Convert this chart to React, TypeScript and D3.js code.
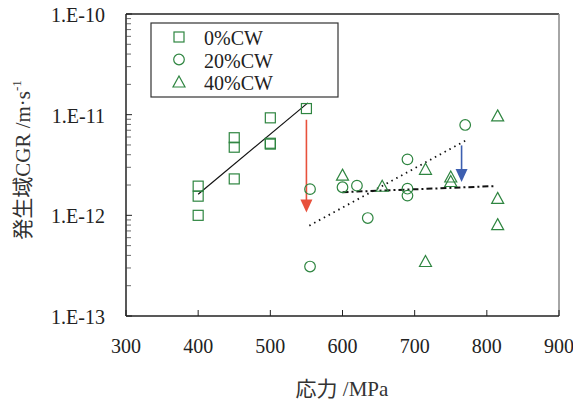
import * as d3 from "d3";

// 0%CW
const cw0Stress = [400, 400, 400, 450, 450, 450, 500, 500, 500, 550];
const cw0Rate = [1.95e-12, 1.55e-12, 1.0e-12, 5.9e-12, 4.75e-12, 2.3e-12, 9.3e-12, 5.2e-12, 5.1e-12, 1.15e-11];
// 20%CW
const cw20Stress = [555, 555, 600, 620, 635, 690, 690, 690, 770];
const cw20Rate = [1.82e-12, 3.1e-13, 1.9e-12, 1.97e-12, 9.4e-13, 3.6e-12, 1.84e-12, 1.57e-12, 7.9e-12];
// 40%CW
const cw40Stress = [600, 655, 715, 715, 750, 750, 815, 815, 815];
const cw40Rate = [2.45e-12, 1.9e-12, 2.8e-12, 3.4e-13, 2.35e-12, 2.12e-12, 9.5e-12, 1.44e-12, 7.9e-13];

// trend lines
const solidLine = [[400, 1.62e-12], [552, 1.31e-11]];
const dottedLine = [[554, 7.9e-13], [770, 5.5e-12]];
const dashDotLine = [[600, 1.7e-12], [810, 1.95e-12]];

// arrows [stress, from, to]
const redArrow = [550, 8.9e-12, 1.07e-12];
const blueArrow = [765, 4.95e-12, 2.14e-12];

const xTicks = [300, 400, 500, 600, 700, 800, 900];
const yTicks = [1e-10, 1e-11, 1e-12, 1e-13];
const yTickLabels = ["1.E-10", "1.E-11", "1.E-12", "1.E-13"];
const legendLabels = ["0%CW", "20%CW", "40%CW"];

const W = 573;
const H = 405;
const margin = { top: 14, right: 14, bottom: 89, left: 126 };
const green = "#2e8540";
const serif = "'Liberation Serif', 'Noto Sans CJK JP', serif";

export default function App() {
  const x = d3.scaleLinear().domain([300, 900]).range([margin.left, W - margin.right]);
  const y = d3.scaleLog().domain([1e-13, 1e-10]).range([H - margin.bottom, margin.top]);

  const minor: number[] = [];
  for (let e = -13; e < -10; e++) {
    for (let k = 2; k <= 9; k++) minor.push(k * Math.pow(10, e));
  }

  const line = d3.line<number[]>().x(d => x(d[0])).y(d => y(d[1]));

  const square = (cx: number, cy: number, key: string) => (
    <rect key={key} x={cx - 5} y={cy - 5} width={10} height={10} fill="none" stroke={green} strokeWidth={1.2} />
  );
  const circle = (cx: number, cy: number, key: string) => (
    <circle key={key} cx={cx} cy={cy} r={5.3} fill="none" stroke={green} strokeWidth={1.2} />
  );
  const triangle = (cx: number, cy: number, key: string) => (
    <path key={key} d={`M${cx},${cy - 7}L${cx + 6},${cy + 4}L${cx - 6},${cy + 4}Z`} fill="none" stroke={green} strokeWidth={1.2} />
  );

  const arrow = (a: number[], color: string, key: string) => {
    const ax = x(a[0]);
    const y0 = y(a[1]);
    const y1 = y(a[2]);
    return (
      <g key={key}>
        <line x1={ax} x2={ax} y1={y0} y2={y1 - 12} stroke={color} strokeWidth={1.6} />
        <path d={`M${ax - 6},${y1 - 13}L${ax + 6},${y1 - 13}L${ax},${y1}Z`} fill={color} />
      </g>
    );
  };

  const x0 = margin.left;
  const x1 = W - margin.right;
  const y0 = H - margin.bottom;
  const y1 = margin.top;

  return (
    <svg width={W} height={H} style={{ position: "absolute", left: 0, top: 0 }}>
      <rect width={W} height={H} fill="white" />
      {/* frame */}
      <line x1={x0} x2={x1} y1={y1} y2={y1} stroke="#222" strokeWidth={1.3} />
      <line x1={x1} x2={x1} y1={y1} y2={y0} stroke="#888" strokeWidth={1.5} />
      <line x1={x0} x2={x1} y1={y0} y2={y0} stroke="#222" strokeWidth={1.5} />
      <line x1={x0} x2={x0} y1={y1} y2={y0} stroke="#222" strokeWidth={1.5} />

      {/* y ticks */}
      {yTicks.map((t, i) => (
        <g key={"yt" + i}>
          <line x1={x0} x2={x0 + 6} y1={y(t)} y2={y(t)} stroke="#222" />
          <text x={105} y={y(t) + 8} textAnchor="end" fontFamily={serif} fontSize={20} fill="#222">
            {yTickLabels[i]}
          </text>
        </g>
      ))}
      {minor.map((t, i) => (
        <line key={"ym" + i} x1={x0} x2={x0 + 5} y1={y(t)} y2={y(t)} stroke="#444" strokeWidth={0.8} />
      ))}

      {/* x ticks */}
      {xTicks.map((t, i) => (
        <g key={"xt" + i}>
          <line x1={x(t)} x2={x(t)} y1={y0} y2={y0 - 6} stroke="#222" />
          <text x={x(t)} y={353} textAnchor="middle" fontFamily={serif} fontSize={20} fill="#222">
            {t}
          </text>
        </g>
      ))}

      {/* axis titles */}
      <text x={342} y={396} textAnchor="middle" fontFamily={serif} fontSize={21} fill="#333">
        応力 /MPa
      </text>
      <text transform={`translate(30,160) rotate(-90)`} textAnchor="middle" fontFamily={serif} fontSize={21} fill="#333">
        発生域CGR /m·s<tspan dy={-9} fontSize={13}>-1</tspan>
      </text>

      {/* trend lines */}
      <path d={line(solidLine) ?? ""} fill="none" stroke="#111" strokeWidth={1.2} />
      <path d={line(dottedLine) ?? ""} fill="none" stroke="#111" strokeWidth={1.8} strokeDasharray="1.5,4" />
      <path d={line(dashDotLine) ?? ""} fill="none" stroke="#111" strokeWidth={2} strokeDasharray="6,3,2,3" />

      {/* arrows */}
      {arrow(redArrow, "#e8513c", "ra")}
      {arrow(blueArrow, "#3d5fb0", "ba")}

      {/* data */}
      {cw0Stress.map((s, i) => square(x(s), y(cw0Rate[i]), "s" + i))}
      {cw20Stress.map((s, i) => circle(x(s), y(cw20Rate[i]), "c" + i))}
      {cw40Stress.map((s, i) => triangle(x(s), y(cw40Rate[i]), "t" + i))}

      {/* legend */}
      <rect x={151} y={23} width={187} height={74} fill="white" stroke="#333" strokeWidth={1.2} />
      {legendLabels.map((l, i) => {
        const ly = 37 + i * 22.5;
        return (
          <g key={"lg" + i}>
            {i === 0 ? square(179, ly, "ls") : i === 1 ? circle(179, ly, "lc") : triangle(179, ly + 1, "lt")}
            <text x={204} y={ly + 8} fontFamily={serif} fontSize={20} fill="#222">
              {l}
            </text>
          </g>
        );
      })}
    </svg>
  );
}
